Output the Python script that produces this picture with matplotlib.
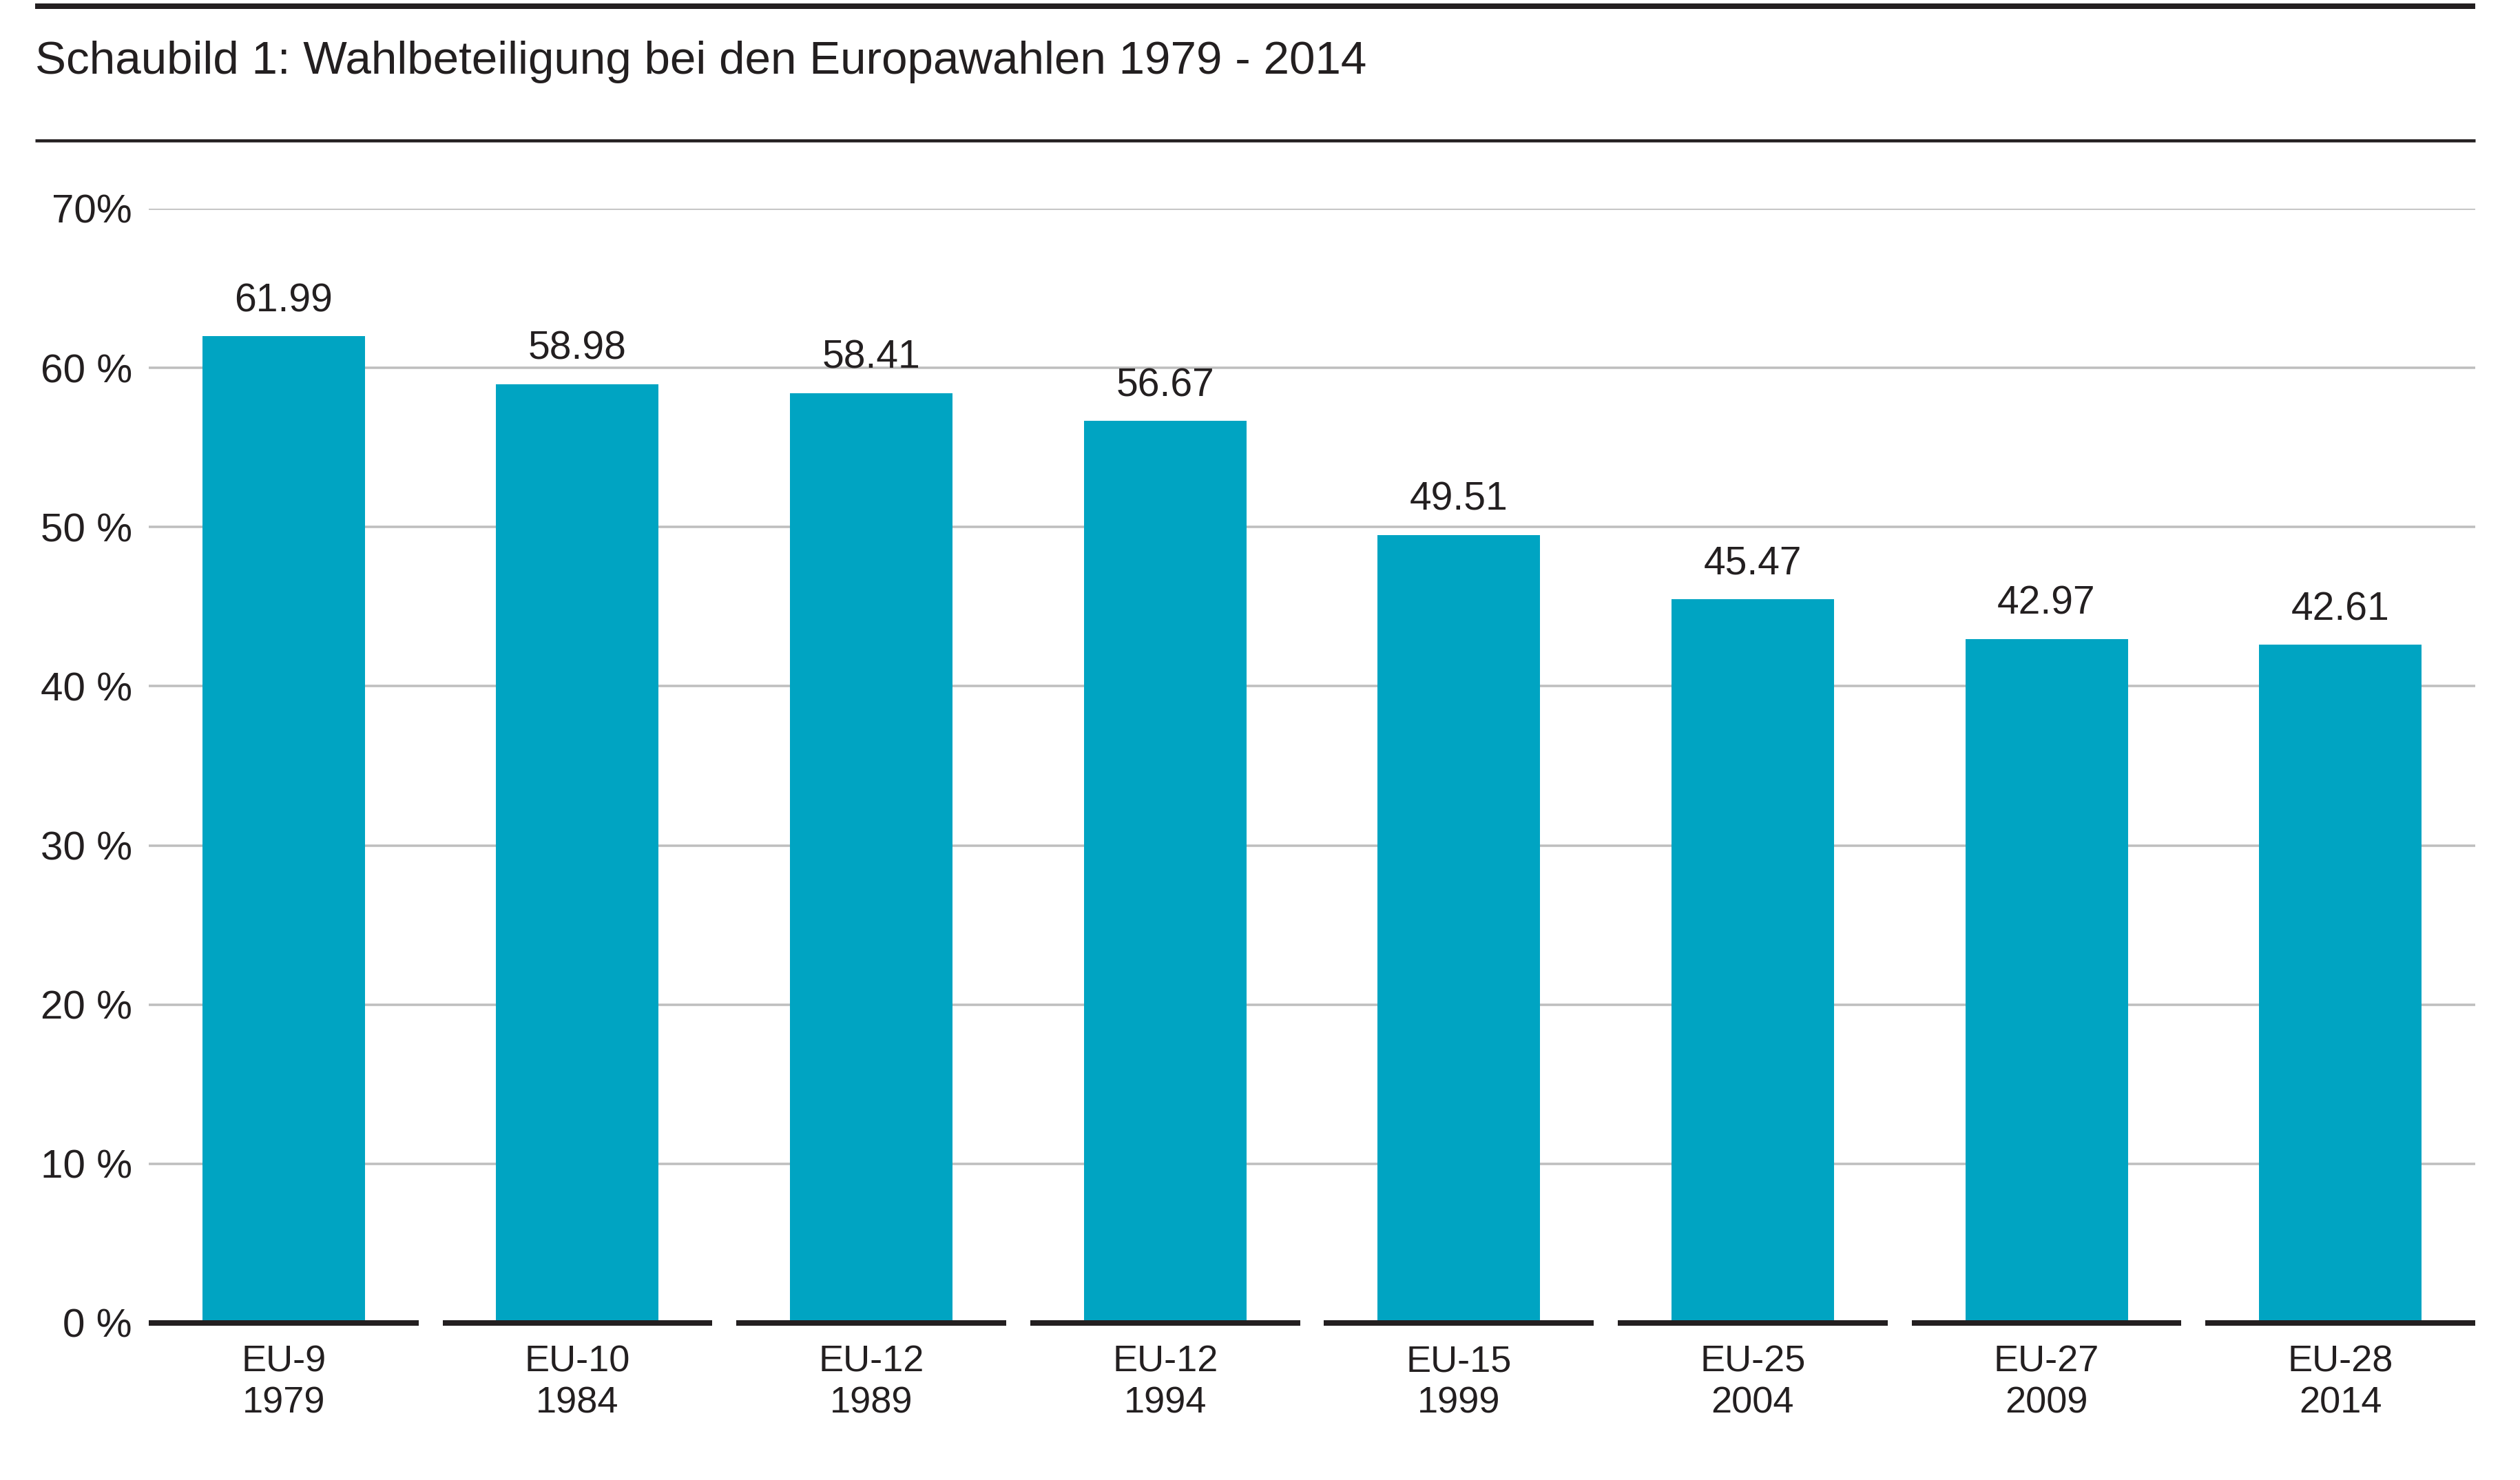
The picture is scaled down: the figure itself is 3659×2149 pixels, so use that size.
import matplotlib
matplotlib.use("Agg")
import matplotlib.pyplot as plt
from matplotlib.lines import Line2D
import numpy as np

# Daten
gremien = ["EU-9", "EU-10", "EU-12", "EU-12", "EU-15", "EU-25", "EU-27", "EU-28"]
jahre = ["1979", "1984", "1989", "1994", "1999", "2004", "2009", "2014"]
beteiligung = [61.99, 58.98, 58.41, 56.67, 49.51, 45.47, 42.97, 42.61]
y_ticks = [0, 10, 20, 30, 40, 50, 60, 70]
y_tick_labels = ["0 %", "10 %", "20 %", "30 %", "40 %", "50 %", "60 %", "70%"]

TITEL = "Schaubild 1: Wahlbeteiligung bei den Europawahlen 1979 - 2014"

# Farben
BALKEN = "#00A4C2"
GITTER = "#BEBEBE"
SCHWARZ = "#231F20"

W, H = 3659, 2149
PX = 72 / 100  # Punkte pro Pixel bei dpi=100

plt.rcParams["font.family"] = ["Liberation Sans", "DejaVu Sans"]

fig = plt.figure(figsize=(W / 100, H / 100), dpi=100)
ax = fig.add_axes([216 / W, (H - 1921) / H, (3594 - 216) / W, (1921 - 303) / H])

x = np.arange(len(beteiligung))

# Gitterlinien (ohne Nulllinie)
ax.hlines(y_ticks[1:], -0.459, len(x) - 1 + 0.459, color=GITTER,
          linewidth=3.5 * PX, zorder=1)

ax.bar(x, beteiligung, width=0.553, color=BALKEN, zorder=2)

# Basislinie je Kategorie
for i in x:
    ax.hlines(0, i - 0.459, i + 0.459, color=SCHWARZ, linewidth=8 * PX,
              zorder=3, clip_on=False)

# Werte über den Balken
for i, v in zip(x, beteiligung):
    ax.annotate(f"{v:.2f}", (i, v), xytext=(0, 36 * PX),
                textcoords="offset points", ha="center", va="baseline",
                fontsize=41, color=SCHWARZ)

ax.set_xlim(-0.459, len(x) - 1 + 0.459)
ax.set_ylim(0, 70)
ax.set_yticks(y_ticks)
ax.set_yticklabels(y_tick_labels, fontsize=42, color=SCHWARZ)
ax.set_xticks(x)
ax.set_xticklabels([f"{g}\n{j}" for g, j in zip(gremien, jahre)], fontsize=39,
                   color=SCHWARZ, linespacing=1.27)
ax.tick_params(axis="y", length=0, pad=24 * PX)
ax.tick_params(axis="x", length=0, pad=31 * PX)
for s in ax.spines.values():
    s.set_visible(False)

# Titel und Linien oben
fig.text(51 / W, 1 - 107 / H, TITEL, fontsize=48.5, color=SCHWARZ,
         ha="left", va="baseline")
fig.add_artist(Line2D([51 / W, 3594 / W], [1 - 9 / H, 1 - 9 / H],
                      color=SCHWARZ, linewidth=8 * PX, solid_capstyle="butt"))
fig.add_artist(Line2D([51 / W, 3594 / W], [1 - 204 / H, 1 - 204 / H],
                      color=SCHWARZ, linewidth=4.5 * PX, solid_capstyle="butt"))

fig.savefig("out.png", dpi=100)
